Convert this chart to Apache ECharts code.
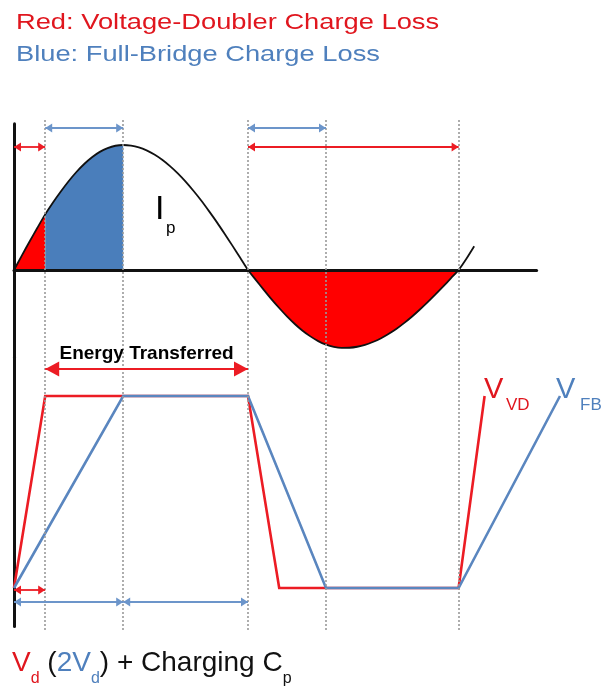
<!DOCTYPE html>
<html>
<head>
<meta charset="utf-8">
<script src="https://cdn.jsdelivr.net/npm/echarts@6/dist/echarts.min.js"></script>
<style>
  html, body { margin: 0; padding: 0; background: #ffffff; }
  #chart { width: 608px; height: 688px; }
</style>
</head>
<body>
<div id="chart"></div>
<script>
// Phase of the primary current, in electrical degrees.
const phaseDeg = [
  0, 6, 12, 18, 24, 30, 36, 42, 48, 54, 60, 66, 72, 78, 84, 90, 96, 102, 108, 114,
  120, 126, 132, 138, 144, 150, 156, 162, 168, 174, 180, 186, 192, 198, 204, 210, 216, 222, 228, 234,
  240, 246, 252, 258, 264, 270, 276, 282, 288, 294, 300, 306, 312, 318, 324, 330, 336, 342, 348, 354
];
// Primary current Ip, normalised to its positive peak.
const primaryCurrent = [
  0, 0.115, 0.228, 0.338, 0.445, 0.54, 0.628, 0.71, 0.784, 0.848, 0.902, 0.945, 0.975, 0.994, 1.0, 0.995, 0.981, 0.957, 0.924, 0.882,
  0.831, 0.773, 0.707, 0.634, 0.556, 0.471, 0.383, 0.29, 0.195, 0.098, 0, -0.079, -0.157, -0.233, -0.304, -0.371, -0.432, -0.486, -0.531, -0.569,
  -0.597, -0.615, -0.623, -0.622, -0.614, -0.599, -0.576, -0.548, -0.512, -0.472, -0.425, -0.374, -0.318, -0.259, -0.197, -0.133, -0.067, 0, 0.09, 0.19
];

// Phase spans where charge is lost.
const vdLossSpans = [[0, 24], [180, 342]];
const fbLossSpans = [[24, 84]];
// Switching instants marked by dotted guides.
const markerPhases = [24, 84, 180, 240, 342];

// Rectifier input voltage, normalised (0 = low rail, 1 = high rail).
const vdPhase = [0, 24, 180, 204, 342, 362];
const vdLevel = [0, 1, 1, 0, 0, 1];
const fbPhase = [0, 84, 180, 240, 342, 420];
const fbLevel = [0, 1, 1, 0, 0, 1];

// Interval arrows (phase from, phase to).
const vdLossArrows = [[0, 24], [180, 342]];
const fbLossArrows = [[24, 84], [180, 240]];
const energySpan = [24, 180];
const vdChargeArrows = [[0, 24]];
const fbChargeArrows = [[0, 84], [84, 180]];

const titleRed = 'Red: Voltage-Doubler Charge Loss';
const titleBlue = 'Blue: Full-Bridge Charge Loss';
const energyText = 'Energy Transferred';

const RED = '#ec1c24';
const RED_FILL = '#ff0000';
const BLUE = '#5a86bf';
const BLUE_FILL = '#4a7ebb';
const BLUE_ARROW = '#6c95ca';
const TEXT_RED = '#e0161e';
const TEXT_BLUE = '#4f80bd';
const FONT = '"Liberation Sans", Arial, Helvetica, sans-serif';

const PX_PER_DEG = 1.3;
const SMOOTH = 0.25;

const pairs = (xs, ys) => xs.map((x, i) => [x, ys[i]]);
const currentPts = pairs(phaseDeg, primaryCurrent);
const inSpan = ([a, b]) => currentPts.filter(p => p[0] >= a && p[0] <= b);

const hidden = { show: false };
const bareAxis = (extra) => Object.assign({
  type: 'value', axisTick: hidden, axisLabel: hidden, splitLine: hidden
}, extra);

function fillSeries(span, color) {
  return {
    type: 'line', xAxisIndex: 0, yAxisIndex: 0, data: inSpan(span),
    smooth: SMOOTH, symbol: 'none', silent: true, z: 1,
    lineStyle: { width: 0 },
    areaStyle: { color: color, opacity: 1 }
  };
}

function arrowSeries(axisIdx, spans, level, color, head, width) {
  return {
    type: 'line', xAxisIndex: axisIdx, yAxisIndex: axisIdx, data: [], silent: true, z: 6,
    markLine: {
      silent: true, animation: false,
      symbol: ['triangle', 'triangle'],
      symbolSize: head,
      symbolOffset: [[0, '50%'], [0, '50%']],
      label: hidden,
      lineStyle: { color: color, width: width, type: 'solid' },
      emphasis: { disabled: true },
      data: spans.map(([a, b]) => [{ coord: [a, level] }, { coord: [b, level] }])
    }
  };
}

const chart = echarts.init(document.getElementById('chart'), null, { renderer: 'canvas' });

const option = {
  backgroundColor: '#ffffff',
  animation: false,
  grid: [
    // current panel
    { left: 14, top: 123.75, width: 402 * PX_PER_DEG, height: 233.75, outerBoundsMode: 'none', containLabel: false },
    // voltage panel
    { left: 14, top: 357.6, width: 450 * PX_PER_DEG, height: 268.8, outerBoundsMode: 'none', containLabel: false },
    // guides spanning both panels
    { left: 14, top: 118, width: 450 * PX_PER_DEG, height: 512, outerBoundsMode: 'none', containLabel: false }
  ],
  xAxis: [
    bareAxis({ gridIndex: 0, min: 0, max: 402, z: 2,
      axisLine: { show: true, onZero: true, lineStyle: { color: '#111', width: 3 } } }),
    bareAxis({ gridIndex: 1, min: 0, max: 450, show: false }),
    bareAxis({ gridIndex: 2, min: 0, max: 450, show: false })
  ],
  yAxis: [
    bareAxis({ gridIndex: 0, min: -0.7, max: 1.17, z: 2,
      axisLine: { show: true, onZero: false, lineStyle: { color: '#111', width: 3 } } }),
    bareAxis({ gridIndex: 1, min: -0.2, max: 1.2, z: 2,
      axisLine: { show: true, onZero: false, lineStyle: { color: '#111', width: 3 } } }),
    bareAxis({ gridIndex: 2, min: 0, max: 1, show: false })
  ],
  series: [
    ...vdLossSpans.map(s => fillSeries(s, RED_FILL)),
    ...fbLossSpans.map(s => fillSeries(s, BLUE_FILL)),
    {
      name: 'Ip', type: 'line', xAxisIndex: 0, yAxisIndex: 0, data: currentPts,
      smooth: SMOOTH, symbol: 'none', silent: true, z: 3,
      lineStyle: { color: '#111', width: 1.8 }
    },
    {
      name: 'VVD', type: 'line', xAxisIndex: 1, yAxisIndex: 1, data: pairs(vdPhase, vdLevel),
      symbol: 'none', silent: true, z: 3,
      lineStyle: { color: RED, width: 2.6, join: 'miter' }
    },
    {
      name: 'VFB', type: 'line', xAxisIndex: 1, yAxisIndex: 1, data: pairs(fbPhase, fbLevel),
      symbol: 'none', silent: true, z: 4,
      lineStyle: { color: BLUE, width: 2.6, join: 'miter' }
    },
    // dotted switching guides
    {
      type: 'line', xAxisIndex: 2, yAxisIndex: 2, data: [], silent: true, z: 5,
      markLine: {
        silent: true, animation: false, symbol: 'none', label: hidden,
        emphasis: { disabled: true },
        lineStyle: { color: '#9a9a9a', width: 1.6, type: [2, 2] },
        data: markerPhases.map(p => ({ xAxis: p }))
      }
    },
    arrowSeries(0, vdLossArrows, 0.984, RED, [9, 7], 1.8),
    arrowSeries(0, fbLossArrows, 1.136, BLUE_ARROW, [9, 7], 1.8),
    arrowSeries(1, vdChargeArrows, -0.01, RED, [9, 7], 1.8),
    arrowSeries(1, fbChargeArrows, -0.073, BLUE_ARROW, [9, 7], 1.8),
    (function () {
      const s = arrowSeries(1, [energySpan], 1.14, RED, [15, 14], 2.2);
      s.markLine.label = {
        show: true, position: 'insideMiddleTop', distance: 6,
        formatter: energyText, color: '#000', fontWeight: 'bold',
        fontSize: 19, fontFamily: FONT
      };
      return s;
    })()
  ],
  graphic: [
    { type: 'text', x: 16, y: 23, scaleX: 1.24, silent: true,
      style: { text: titleRed, fill: TEXT_RED, fontSize: 22, fontFamily: FONT, align: 'left', verticalAlign: 'middle' } },
    { type: 'text', x: 16, y: 55, scaleX: 1.24, silent: true,
      style: { text: titleBlue, fill: TEXT_BLUE, fontSize: 22, fontFamily: FONT, align: 'left', verticalAlign: 'middle' } },
    // Ip label
    { type: 'text', x: 155, y: 210, silent: true,
      style: { text: 'I', fill: '#000', fontSize: 34, fontFamily: FONT, align: 'left', verticalAlign: 'middle' } },
    { type: 'text', x: 166, y: 228, silent: true,
      style: { text: 'p', fill: '#000', fontSize: 17, fontFamily: FONT, align: 'left', verticalAlign: 'middle' } },
    // VVD label
    { type: 'text', x: 484, y: 390, silent: true,
      style: { text: 'V', fill: TEXT_RED, fontSize: 29, fontFamily: FONT, align: 'left', verticalAlign: 'middle' } },
    { type: 'text', x: 506, y: 405, silent: true,
      style: { text: 'VD', fill: TEXT_RED, fontSize: 17, fontFamily: FONT, align: 'left', verticalAlign: 'middle' } },
    // VFB label
    { type: 'text', x: 556, y: 390, silent: true,
      style: { text: 'V', fill: TEXT_BLUE, fontSize: 29, fontFamily: FONT, align: 'left', verticalAlign: 'middle' } },
    { type: 'text', x: 580, y: 405, silent: true,
      style: { text: 'FB', fill: TEXT_BLUE, fontSize: 17, fontFamily: FONT, align: 'left', verticalAlign: 'middle' } },
    // footnote formula
    { type: 'text', x: 12, y: 649, silent: true,
      style: {
        text: '{rm|V}{rs|d}{km| (}{bm|2V}{bs|d}{km|) + Charging C}{ks|p}',
        fontFamily: FONT, align: 'left', verticalAlign: 'top',
        rich: {
          rm: { fill: TEXT_RED, fontSize: 28, lineHeight: 28, verticalAlign: 'top', fontFamily: FONT },
          rs: { fill: TEXT_RED, fontSize: 16, lineHeight: 16, padding: [22, 0, 0, 0], verticalAlign: 'top', fontFamily: FONT },
          bm: { fill: TEXT_BLUE, fontSize: 28, lineHeight: 28, verticalAlign: 'top', fontFamily: FONT },
          bs: { fill: TEXT_BLUE, fontSize: 16, lineHeight: 16, padding: [22, 0, 0, 0], verticalAlign: 'top', fontFamily: FONT },
          km: { fill: '#111', fontSize: 28, lineHeight: 28, verticalAlign: 'top', fontFamily: FONT },
          ks: { fill: '#111', fontSize: 16, lineHeight: 16, padding: [22, 0, 0, 0], verticalAlign: 'top', fontFamily: FONT }
        }
      } }
  ]
};

chart.setOption(option);
</script>
</body>
</html>
